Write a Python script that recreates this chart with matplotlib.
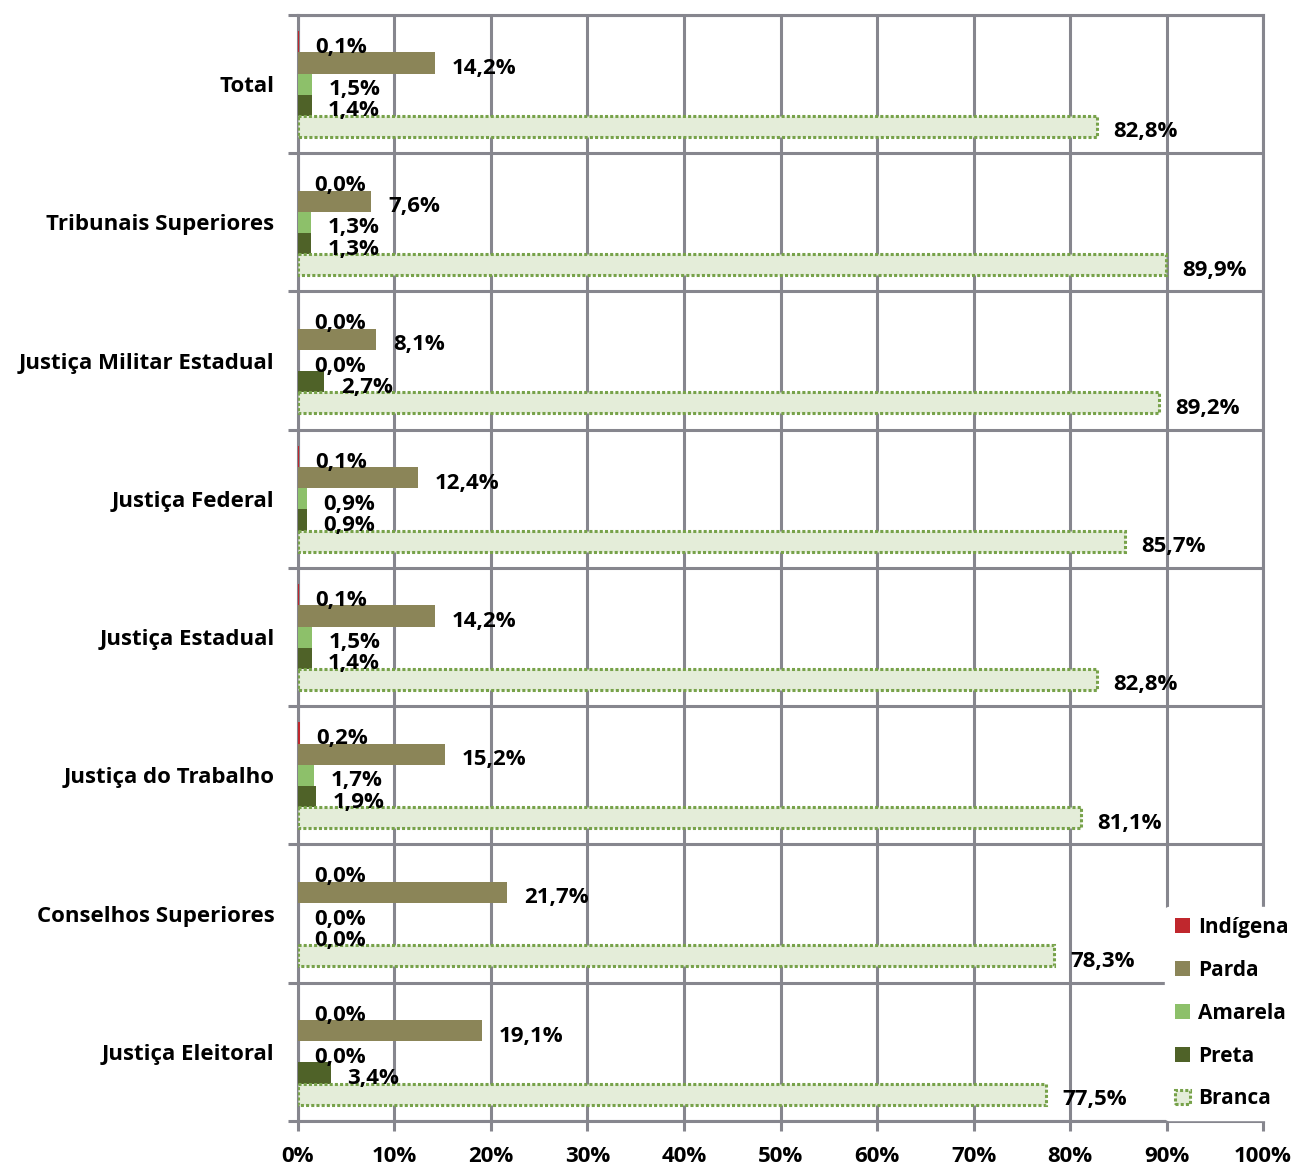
import matplotlib.pyplot as plt
from matplotlib.patches import Patch

categories = ['Total', 'Tribunais Superiores', 'Justiça Militar Estadual', 'Justiça Federal',
              'Justiça Estadual', 'Justiça do Trabalho', 'Conselhos Superiores', 'Justiça Eleitoral']
series = ['Indígena', 'Parda', 'Amarela', 'Preta', 'Branca']
indigena = [0.1, 0.0, 0.0, 0.1, 0.1, 0.2, 0.0, 0.0]
parda = [14.2, 7.6, 8.1, 12.4, 14.2, 15.2, 21.7, 19.1]
amarela = [1.5, 1.3, 0.0, 0.9, 1.5, 1.7, 0.0, 0.0]
preta = [1.4, 1.3, 2.7, 0.9, 1.4, 1.9, 0.0, 3.4]
branca = [82.8, 89.9, 89.2, 85.7, 82.8, 81.1, 78.3, 77.5]
xticks = [0, 10, 20, 30, 40, 50, 60, 70, 80, 90, 100]

values = [indigena, parda, amarela, preta, branca]
fills = ['#C0272D', '#8B8558', '#8DC06A', '#4F6228', '#E4EDD9']
edges = [None, None, None, None, '#77A24A']

plt.rcParams['font.family'] = ['Open Sans', 'DejaVu Sans']
plt.rcParams['font.weight'] = 'bold'
fs = 16

fig = plt.figure(figsize=(12.99, 11.69), dpi=100)
ax = fig.add_axes([0.2294, 0.0411, 0.7429, 0.9461])

grid_c = '#86868E'
bh = 0.153
dots = (0, (1.0, 0.7))
for j, (name, vals) in enumerate(zip(series, values)):
    ys = [i + (j - 2) * bh for i in range(len(categories))]
    if edges[j]:
        ax.barh(ys, vals, height=bh, color=fills[j], edgecolor=edges[j],
                linewidth=2.2, linestyle=dots, zorder=3)
    else:
        ax.barh(ys, vals, height=bh, color=fills[j], linewidth=0, zorder=3)
    for y, v in zip(ys, vals):
        ax.annotate(f'{v:.1f}'.replace('.', ',') + '%', (v, y), xytext=(12, -4),
                    textcoords='offset points', va='center', ha='left',
                    fontsize=fs, fontweight='bold', zorder=4)

ax.set_xlim(0, 100)
ax.set_ylim(len(categories) - 0.5, -0.5)
ax.set_xticks(xticks)
ax.set_xticklabels([f'{t}%' for t in xticks], fontsize=fs, fontweight='bold')
ax.set_yticks([i + 0.5 for i in range(-1, len(categories))])
ax.set_yticklabels([])
ax.set_yticks(range(len(categories)), minor=True)
ax.set_yticklabels(categories, minor=True, fontsize=fs, fontweight='bold')
ax.tick_params(axis='y', which='minor', length=0, pad=17)
ax.tick_params(axis='y', which='major', length=7, width=2.2, color=grid_c)
ax.tick_params(axis='x', length=7, width=2.2, color=grid_c, pad=11)
ax.grid(True, color=grid_c, linewidth=2.2, zorder=0)
for s in ax.spines.values():
    s.set_color(grid_c)
    s.set_linewidth(2.2)

handles = [Patch(facecolor=fills[j], edgecolor=edges[j] if edges[j] else fills[j],
                 linestyle=dots if edges[j] else '-', linewidth=2.2 if edges[j] else 0)
           for j in range(len(series))]
leg = fig.legend(handles, series, loc='lower right', bbox_to_anchor=(1.0, 0.042),
                 frameon=True, fontsize=15, handlelength=0.7, handleheight=0.7,
                 handletextpad=0.4, labelspacing=1.05, borderpad=0.5, borderaxespad=0.0)
leg.get_frame().set_facecolor('white')
leg.get_frame().set_edgecolor('white')
leg.get_frame().set_alpha(1)
leg.set_zorder(10)

fig.savefig('out.png', dpi=100)
